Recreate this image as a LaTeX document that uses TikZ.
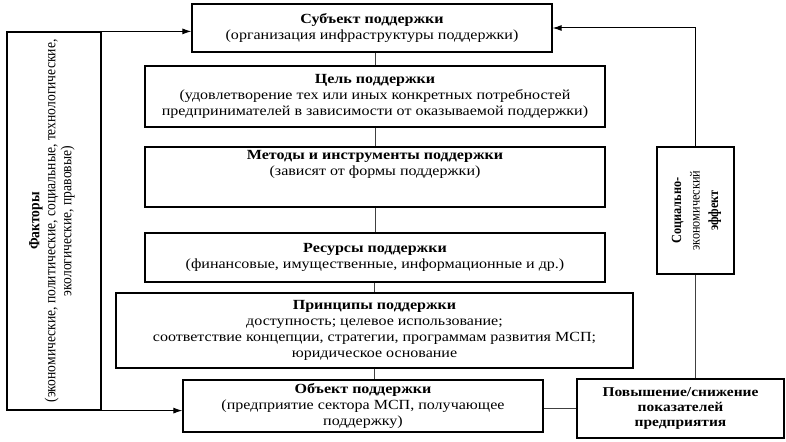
\documentclass[tikz,border=0pt]{standalone}
\usepackage{fontspec}
\setmainfont{Liberation Serif}[FakeStretch=1.15]
\newfontfamily\rotfont{Liberation Serif}[FakeStretch=0.88]
\usetikzlibrary{arrows.meta}
\begin{document}
\begin{tikzpicture}[x=1bp,y=-1bp,
  box/.style={draw, line width=1.2pt, inner sep=0pt, align=center, font=\fontsize{14}{16}\selectfont},
  rottext/.style={rotate=90, inner sep=0pt, align=center},
  conn/.style={draw=black!75, line width=0.9pt},
  arr/.style={draw=black, line width=1pt, -{Latex[length=9pt,width=6pt]}}]
\useasboundingbox (0,0) rectangle (786,442);
\node[box, minimum width=360bp, minimum height=48bp] (subj) at (372,28)
  {\textbf{Субъект поддержки}\\(организация инфраструктуры поддержки)};
\node[box, minimum width=460bp, minimum height=61bp] (goal) at (375,96.5)
  {\textbf{Цель поддержки}\\(удовлетворение тех или иных конкретных потребностей\\предпринимателей в зависимости от оказываемой поддержки)};
\node[box, minimum width=460bp, minimum height=60bp] (meth) at (375,177)
  {\textbf{Методы и инструменты поддержки}\\(зависят от формы поддержки)\\[12bp]};
\node[box, minimum width=460bp, minimum height=49bp] (res) at (375,257.5)
  {\textbf{Ресурсы поддержки}\\(финансовые, имущественные, информационные и др.)};
\node[box, minimum width=517bp, minimum height=75bp] (prin) at (374.5,330.5)
  {\textbf{Принципы поддержки}\\доступность; целевое использование;\\соответствие концепции, стратегии, программам развития МСП;\\юридическое основание};
\node[box, minimum width=360bp, minimum height=52bp] (obj) at (363,406)
  {\textbf{Объект поддержки}\\(предприятие сектора МСП, получающее\\поддержку)};
\node[box, minimum width=94bp, minimum height=378bp] (fact) at (54,221) {};
\node[rottext, font=\rotfont\fontsize{15.5}{16}\selectfont] (facttext) at (52,221)
  {\textbf{Факторы}\\(экономические, политические, социальные, технологические,\\экологические, правовые)};
\node[box, minimum width=77bp, minimum height=127bp] (soc) at (695.5,210.5) {};
\node[rottext, font=\rotfont\fontsize{14}{18.5}\selectfont] (soctext) at (696.5,210.5)
  {\textbf{Социально-}\\экономический\\\textbf{эффект}};
\node[box, minimum width=207bp, minimum height=59bp, font=\fontsize{13.5}{15}\selectfont] (pov) at (680.5,408.5)
  {\textbf{Повышение/снижение}\\\textbf{показателей}\\\textbf{предприятия}};
\draw[arr] (fact.north east) -- (fact.north east -| subj.west);
\draw[arr] (fact.south east) -- (fact.south east -| obj.west);
\draw[conn] (goal.north |- subj.south) -- (goal.north);
\draw[conn] (goal.south) -- (meth.north);
\draw[conn] (meth.south) -- (res.north);
\draw[conn] (res.south -| prin.north) -- (prin.north);
\draw[conn] (prin.south) -- (prin.south |- obj.north);
\draw[conn] (pov.west -| obj.east) -- (pov.west);
\draw[conn] (soc.south |- pov.north) -- (soc.south);
\draw[arr] (soc.north) |- (subj.east);
\end{tikzpicture}
\end{document}
